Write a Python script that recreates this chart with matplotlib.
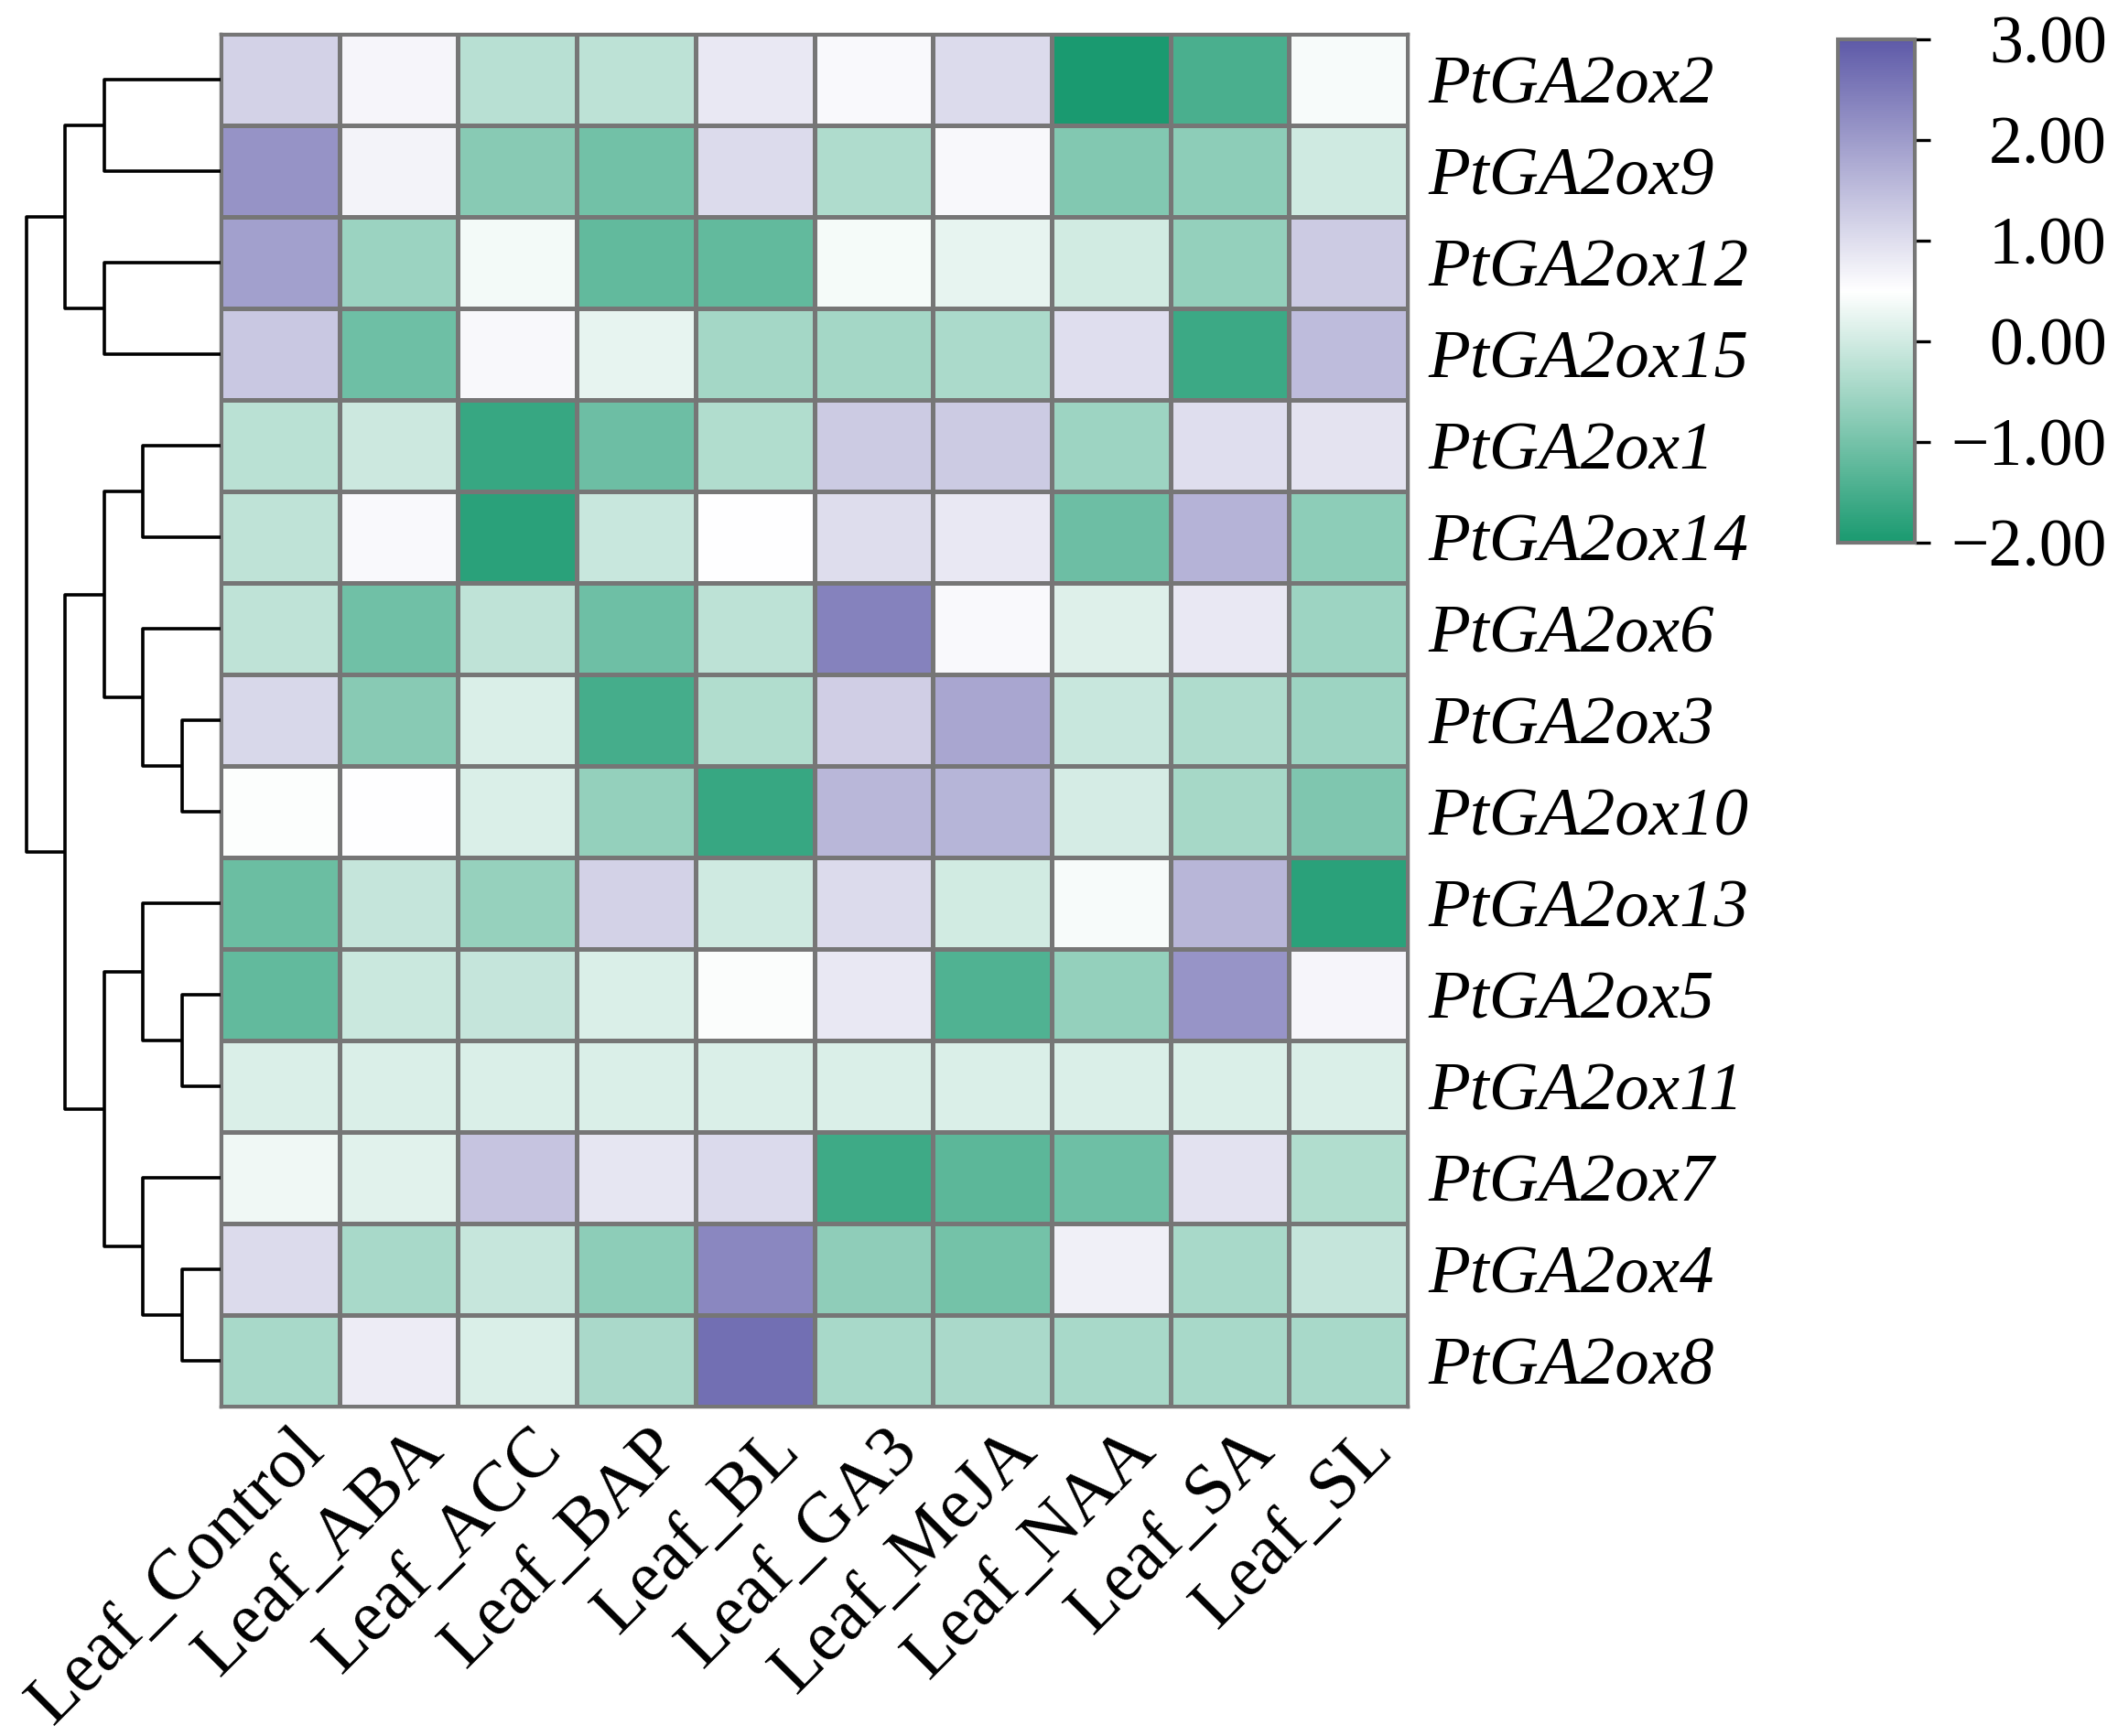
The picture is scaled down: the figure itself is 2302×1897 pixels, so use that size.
import matplotlib
matplotlib.use("Agg")
import matplotlib.pyplot as plt
import numpy as np
from matplotlib.colors import LinearSegmentedColormap
from matplotlib.transforms import ScaledTranslation

plt.rcParams["font.family"] = ["Liberation Serif", "DejaVu Serif"]

genes = ["PtGA2ox2", "PtGA2ox9", "PtGA2ox12", "PtGA2ox15", "PtGA2ox1",
         "PtGA2ox14", "PtGA2ox6", "PtGA2ox3", "PtGA2ox10", "PtGA2ox13",
         "PtGA2ox5", "PtGA2ox11", "PtGA2ox7", "PtGA2ox4", "PtGA2ox8"]
treatments = ["Leaf_Control", "Leaf_ABA", "Leaf_ACC", "Leaf_BAP", "Leaf_BL",
              "Leaf_GA3", "Leaf_MeJA", "Leaf_NAA", "Leaf_SA", "Leaf_SL"]

# z-scored expression, one row per gene (same order as `genes`)
ox2 = [1.17, 0.65, -0.28, -0.21, 0.85, 0.58, 1.03, -1.99, -1.47, 0.42]
ox9 = [2.14, 0.68, -0.80, -1.04, 1.03, -0.37, 0.61, -0.86, -0.74, -0.01]
ox12 = [1.94, -0.59, 0.38, -1.20, -1.20, 0.39, 0.23, 0.01, -0.67, 1.30]
ox15 = [1.33, -1.08, 0.61, 0.23, -0.49, -0.49, -0.41, 1.00, -1.61, 1.50]
ox1 = [-0.25, -0.05, -1.68, -1.09, -0.34, 1.29, 1.29, -0.56, 1.00, 0.92]
ox14 = [-0.19, 0.58, -1.81, -0.10, 0.50, 1.02, 0.85, -1.10, 1.64, -0.74]
ox6 = [-0.19, -1.06, -0.19, -1.08, -0.21, 2.38, 0.58, 0.14, 0.85, -0.56]
ox3 = [1.09, -0.79, 0.10, -1.53, -0.35, 1.23, 1.83, -0.09, -0.36, -0.57]
ox10 = [0.47, 0.50, 0.10, -0.66, -1.68, 1.59, 1.62, 0.04, -0.47, -0.90]
ox13 = [-1.12, -0.14, -0.64, 1.17, -0.01, 1.03, 0.01, 0.42, 1.61, -1.81]
ox5 = [-1.20, -0.07, -0.13, 0.10, 0.45, 0.85, -1.41, -0.66, 2.12, 0.64]
ox11 = [0.09, 0.09, 0.09, 0.09, 0.09, 0.09, 0.09, 0.09, 0.09, 0.09]
ox7 = [0.34, 0.18, 1.39, 0.88, 1.06, -1.60, -1.26, -1.07, 0.94, -0.34]
ox4 = [1.03, -0.44, -0.11, -0.74, 2.30, -0.72, -1.01, 0.73, -0.45, -0.13]
ox8 = [-0.45, 0.79, 0.10, -0.42, 2.67, -0.44, -0.43, -0.44, -0.44, -0.44]

# row dendrogram, scipy-linkage style: (child a, child b, height); new nodes get ids 15, 16, ...
links = [
    (7, 8, 1), (10, 11, 1), (13, 14, 1),
    (4, 5, 2), (6, 15, 2), (9, 16, 2), (12, 17, 2),
    (0, 1, 3), (2, 3, 3), (18, 19, 3), (20, 21, 3),
    (22, 23, 4), (24, 25, 4),
    (26, 27, 5),
]

cbar_ticks = [-2, -1, 0, 1, 2, 3]
cbar_labels = ["\u22122.00", "\u22121.00", "0.00", "1.00", "2.00", "3.00"]

W, H = 2302, 1897
GRID = "#767676"


def frac(x0, y0, x1, y1):
    """Pixel box (top-left origin) -> figure fraction rect."""
    return [x0 / W, 1 - y1 / H, (x1 - x0) / W, (y1 - y0) / H]


data = np.array([ox2, ox9, ox12, ox15, ox1, ox14, ox6, ox3, ox10, ox13,
                 ox5, ox11, ox7, ox4, ox8])
n_rows, n_cols = data.shape

fig = plt.figure(figsize=(W / 100, H / 100), dpi=100)
cmap = LinearSegmentedColormap.from_list("green_white_purple", ["#1a9a70", "#ffffff", "#5e5aa8"])

# ---- heatmap ---------------------------------------------------------
ax = fig.add_axes(frac(241, 37, 1538, 1537))
mesh = ax.pcolormesh(data, cmap=cmap, vmin=-2, vmax=3, edgecolors=GRID, linewidth=2.5)
ax.set_xlim(0, n_cols)
ax.set_ylim(n_rows, 0)
for s in ax.spines.values():
    s.set_color(GRID)
    s.set_linewidth(2.5)
ax.yaxis.tick_right()
ax.set_yticks(np.arange(n_rows) + 0.5, genes, fontstyle="italic", fontsize=54)
ax.set_xticks(np.arange(n_cols) + 0.5, treatments, rotation=45, ha="right", va="top",
              rotation_mode="anchor", fontsize=56.5)
ax.tick_params(axis="y", length=0, pad=16)
ax.tick_params(axis="x", length=0, pad=1)
# nudge the rotated column labels so their ends sit just right of each cell centre
shift = ScaledTranslation(9 / 72, -7 / 72, fig.dpi_scale_trans)
for lab in ax.get_xticklabels():
    lab.set_transform(lab.get_transform() + shift)

# ---- dendrogram ------------------------------------------------------
axd = fig.add_axes(frac(10, 37, 241, 1537))
pos = {i: i + 0.5 for i in range(n_rows)}
hgt = {i: 0.0 for i in range(n_rows)}
for k, (a, b, h) in enumerate(links):
    axd.plot([hgt[a], h, h, hgt[b]], [pos[a], pos[a], pos[b], pos[b]],
             color="black", lw=2.6, solid_capstyle="butt", clip_on=False)
    pos[n_rows + k] = (pos[a] + pos[b]) / 2
    hgt[n_rows + k] = h
axd.set_xlim((241 - 10) / 42.4, 0)
axd.set_ylim(n_rows, 0)
axd.axis("off")

# ---- colorbar --------------------------------------------------------
cax = fig.add_axes(frac(2008, 43, 2092, 593))
cb = fig.colorbar(mesh, cax=cax, ticks=cbar_ticks)
cb.outline.set_edgecolor(GRID)
cb.outline.set_linewidth(3)
cax.set_yticklabels(cbar_labels)
cax.tick_params(length=12, width=2.4, color="black", pad=139, labelsize=53)
for t in cax.get_yticklabels():
    t.set_horizontalalignment("right")

fig.savefig("out.png", dpi=100)
